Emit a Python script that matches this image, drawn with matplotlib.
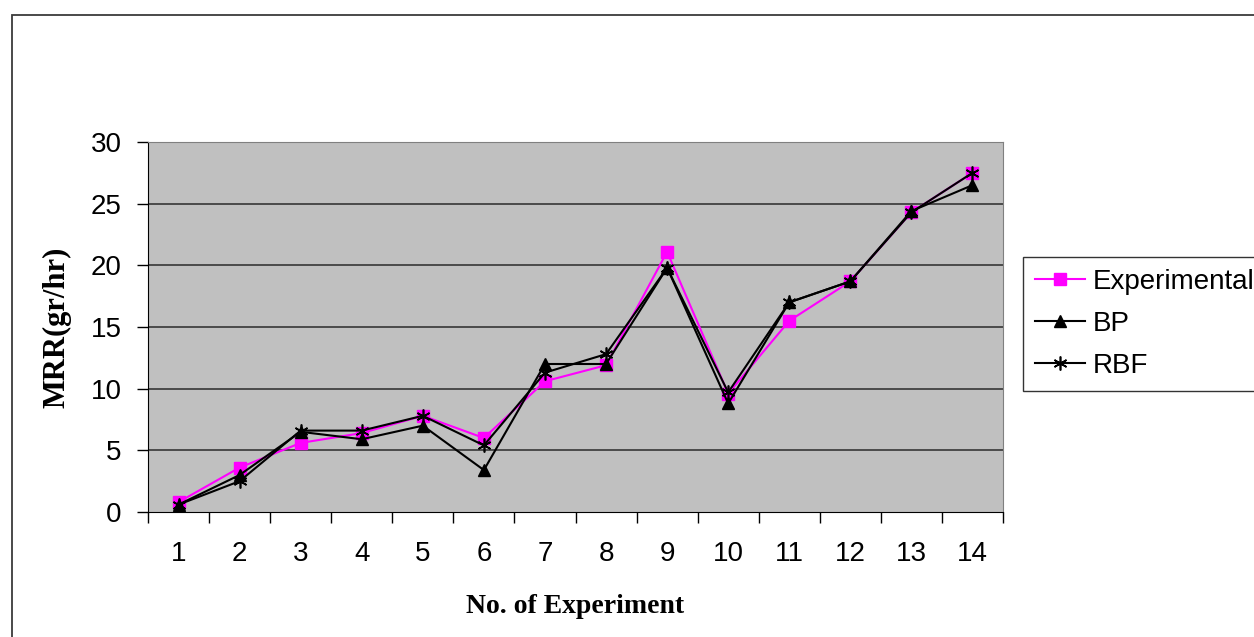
import numpy as np
import matplotlib.pyplot as plt
from matplotlib.patches import Rectangle

# MRR for each experiment: measured values and the two network predictions
experiments = [str(i) for i in range(1, 15)]
experimental = [0.8, 3.6, 5.6, 6.4, 7.8, 6.0, 10.6, 11.9, 21.1, 9.6, 15.5, 18.7, 24.3, 27.5]
bp = [0.6, 3.0, 6.5, 5.9, 7.0, 3.4, 12.0, 12.0, 19.8, 8.8, 17.0, 18.7, 24.4, 26.5]
rbf = [0.6, 2.5, 6.6, 6.6, 7.8, 5.4, 11.3, 12.8, 19.8, 9.7, 17.0, 18.7, 24.3, 27.5]

plt.rcParams['font.family'] = ['Liberation Sans', 'DejaVu Sans']

W, H = 1254, 637
fig = plt.figure(figsize=(W / 100, H / 100), dpi=100)
ax = fig.add_axes([148 / W, 1 - 512 / H, 855 / W, 370 / H])

# chart frame around everything
fig.patches.append(Rectangle((12 / W, -0.2), 1.2, (H - 15) / H + 0.2,
                             transform=fig.transFigure, fill=False,
                             edgecolor='#3a3a3a', linewidth=1.3))

x = np.arange(1, len(experiments) + 1)
ax.set_facecolor('#c0c0c0')
for v in range(5, 31, 5):
    ax.axhline(v, color='#2b2b2b', linewidth=1.1, zorder=1)

ax.plot(x, experimental, color='#ff00ff', linewidth=1.5, marker='s',
        markersize=8, label='Experimental', zorder=3)
ax.plot(x, bp, color='black', linewidth=1.5, marker='^',
        markersize=9, label='BP', zorder=4)
ax.plot(x, rbf, color='black', linewidth=1.5, marker=(6, 2, 0),
        markersize=10, markeredgewidth=1.2, label='RBF', zorder=5)

ax.set_xlim(0.5, len(experiments) + 0.5)
ax.set_ylim(0, 30)
ax.set_yticks(range(0, 31, 5))
ax.set_xticks(np.arange(0.5, len(experiments) + 1, 1))
ax.set_xticklabels([])
ax.set_xticks(x, minor=True)
ax.set_xticklabels(experiments, minor=True)
ax.tick_params(axis='x', which='major', length=8, width=1, direction='out')
ax.tick_params(axis='x', which='minor', length=0, pad=21, labelsize=20)
ax.tick_params(axis='y', length=8, width=1, direction='out', labelsize=20, pad=11)

ax.spines['left'].set_color('black')
ax.spines['bottom'].set_color('black')
ax.spines['top'].set_color('#808080')
ax.spines['right'].set_color('#808080')

ax.set_xlabel('No. of Experiment', family='Liberation Serif', fontweight='bold',
              fontsize=20, labelpad=19)
ax.set_ylabel('MRR(gr/hr)', family='Liberation Serif', fontweight='bold',
              fontsize=22, labelpad=14)

leg = ax.legend(loc='upper left', bbox_to_anchor=(1023 / W, 1 - 257 / H),
                bbox_transform=fig.transFigure, frameon=True, fancybox=False,
                fontsize=20, handlelength=1.8, borderpad=0.42, labelspacing=0.58,
                handletextpad=0.3, borderaxespad=0)
leg.get_frame().set_edgecolor('black')
leg.get_frame().set_linewidth(1.0)

fig.savefig('out.png', dpi=100, facecolor='white')
